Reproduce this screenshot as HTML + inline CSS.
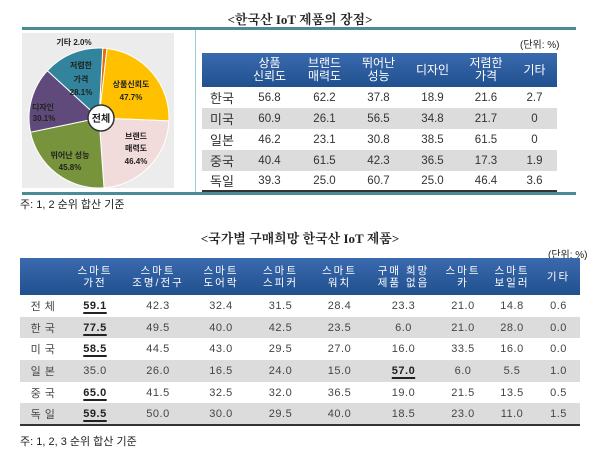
<!DOCTYPE html>
<html><head><meta charset="utf-8"><style>
body{margin:0;width:600px;height:454px;background:#fff;position:relative;overflow:hidden;font-family:"Liberation Sans","Noto Sans CJK KR",sans-serif;color:#222}
.a{position:absolute}
table{border-collapse:collapse;position:absolute;table-layout:fixed}
td{padding:0;text-align:center;white-space:nowrap}
.t1 th,.t2 th{background:linear-gradient(#3a6aae,#21508f);color:#fff;font-weight:normal;line-height:13px}
.t1 td{font-size:11.5px;color:#333}
.t2 td{font-size:11px;color:#444;letter-spacing:0.5px}
.g td{background:#dcdcdc}
.u{text-decoration:underline;text-decoration-thickness:2px;text-underline-offset:3px;font-weight:bold;color:#222}
.t2 th{font-size:10.5px;letter-spacing:2px;line-height:12px}
</style></head><body>
<div class="a" style="left:0;width:600px;top:9px;text-align:center;font-size:13px;font-weight:bold;font-family:'Liberation Serif','Noto Serif CJK SC',serif">&lt;한국산 IoT 제품의 장점&gt;</div>
<div class="a" style="left:22px;top:27px;width:554px;height:3px;background:#4a8c96"></div>
<div class="a" style="left:22px;top:192px;width:554px;height:3px;background:#4a8c96"></div>
<div class="a" style="left:195px;top:30px;width:1px;height:162px;background:#9cc"></div>
<div class="a" style="left:22px;top:33px;width:152px;height:155px;background:#ececec"></div>
<svg class="a" style="left:0;top:0" width="200" height="200">
<g stroke="#fff" stroke-width="1">
<path d="M99 118 L102.7 48.1 A70 70 0 0 1 107 48.5Z" fill="#e46c0a"/>
<path d="M99 118 L107 48.5 A70 70 0 0 1 168.9 120.9Z" fill="#ffc000"/>
<path d="M99 118 L168.9 120.9 A70 70 0 0 1 104 187.8Z" fill="#f2dcdb"/>
<path d="M99 118 L104 187.8 A70 70 0 0 1 30.5 132.2Z" fill="#77933c"/>
<path d="M99 118 L30.5 132.2 A70 70 0 0 1 47.4 70.7Z" fill="#604a7b"/>
<path d="M99 118 L47.4 70.7 A70 70 0 0 1 102.8 48.1Z" fill="#31849b"/>
</g>
<circle cx="101" cy="118" r="13" fill="#fff" stroke="#333" stroke-width="1.5"/>
<g font-size="8" font-weight="bold" text-anchor="middle" fill="#222" font-family="Liberation Sans,Noto Sans CJK KR,sans-serif">
<text x="101" y="122" font-size="10">전체</text>
<text x="74" y="45">기타 2.0%</text>
<text x="81" y="68">저렴한</text><text x="81" y="82">가격</text><text x="81" y="95">28.1%</text>
<text x="131" y="87">상품신뢰도</text><text x="131" y="100">47.7%</text>
<text x="43" y="110">디자인</text><text x="44" y="121">30.1%</text>
<text x="136" y="139">브랜드</text><text x="136" y="151">매력도</text><text x="136" y="164">46.4%</text>
<text x="70" y="158">뛰어난 성능</text><text x="70" y="170">45.8%</text>
</g></svg>
<div class="a" style="left:520px;top:36px;font-size:10px">(단위: %)</div>
<table class="t1" style="left:202px;top:53px;width:355px">
<colgroup><col style="width:40px"><col style="width:55px"><col style="width:55px"><col style="width:53px"><col style="width:55px"><col style="width:52px"><col style="width:45px"></colgroup>
<tr style="height:34px"><th></th><th style="font-size:12px">상품<br>신뢰도</th><th style="font-size:12px">브랜드<br>매력도</th><th style="font-size:12px">뛰어난<br>성능</th><th style="font-size:12px">디자인</th><th style="font-size:12px">저렴한<br>가격</th><th style="font-size:12px">기타</th></tr>
<tr style="height:21px"><td style="font-size:13px">한국</td><td>56.8</td><td>62.2</td><td>37.8</td><td>18.9</td><td>21.6</td><td>2.7</td></tr>
<tr class="g" style="height:21px"><td style="font-size:13px">미국</td><td>60.9</td><td>26.1</td><td>56.5</td><td>34.8</td><td>21.7</td><td>0</td></tr>
<tr style="height:21px"><td style="font-size:13px">일본</td><td>46.2</td><td>23.1</td><td>30.8</td><td>38.5</td><td>61.5</td><td>0</td></tr>
<tr class="g" style="height:21px"><td style="font-size:13px">중국</td><td>40.4</td><td>61.5</td><td>42.3</td><td>36.5</td><td>17.3</td><td>1.9</td></tr>
<tr style="height:19px;border-bottom:2px solid #333"><td style="font-size:13px">독일</td><td>39.3</td><td>25.0</td><td>60.7</td><td>25.0</td><td>46.4</td><td>3.6</td></tr>
</table>
<div class="a" style="left:20px;top:196px;font-size:11px">주: 1, 2 순위 합산 기준</div>
<div class="a" style="left:0;width:600px;top:228px;text-align:center;font-size:13px;font-weight:bold;font-family:'Liberation Serif','Noto Serif CJK SC',serif">&lt;국가별 구매희망 한국산 IoT 제품&gt;</div>
<div class="a" style="left:548px;top:246px;font-size:10px">(단위: %)</div>
<table class="t2" style="left:20px;top:258px;width:560px">
<colgroup><col style="width:46px"><col style="width:58px"><col style="width:68px"><col style="width:58px"><col style="width:61px"><col style="width:57px"><col style="width:71px"><col style="width:48px"><col style="width:50px"><col style="width:43px"></colgroup>
<tr style="height:37px"><th></th><th>스마트<br>가전</th><th>스마트<br>조명/전구</th><th>스마트<br>도어락</th><th>스마트<br>스피커</th><th>스마트<br>워치</th><th>구매 희망<br>제품 없음</th><th>스마트<br>카</th><th>스마트<br>보일러</th><th>기타</th></tr>
<tr style="height:22px"><td>전 체</td><td><span class="u">59.1</span></td><td>42.3</td><td>32.4</td><td>31.5</td><td>28.4</td><td>23.3</td><td>21.0</td><td>14.8</td><td>0.6</td></tr>
<tr class="g" style="height:21px"><td>한 국</td><td><span class="u">77.5</span></td><td>49.5</td><td>40.0</td><td>42.5</td><td>23.5</td><td>6.0</td><td>21.0</td><td>28.0</td><td>0.0</td></tr>
<tr style="height:22px"><td>미 국</td><td><span class="u">58.5</span></td><td>44.5</td><td>43.0</td><td>29.5</td><td>27.0</td><td>16.0</td><td>33.5</td><td>16.0</td><td>0.0</td></tr>
<tr class="g" style="height:22px"><td>일 본</td><td>35.0</td><td>26.0</td><td>16.5</td><td>24.0</td><td>15.0</td><td><span class="u">57.0</span></td><td>6.0</td><td>5.5</td><td>1.0</td></tr>
<tr style="height:21px"><td>중 국</td><td><span class="u">65.0</span></td><td>41.5</td><td>32.5</td><td>32.0</td><td>36.5</td><td>19.0</td><td>21.5</td><td>13.5</td><td>0.5</td></tr>
<tr class="g" style="height:22px;border-bottom:2px solid #333"><td>독 일</td><td><span class="u">59.5</span></td><td>50.0</td><td>30.0</td><td>29.5</td><td>40.0</td><td>18.5</td><td>23.0</td><td>11.0</td><td>1.5</td></tr>
</table>
<div class="a" style="left:20px;top:433px;font-size:11px">주: 1, 2, 3 순위 합산 기준</div>
</body></html>
